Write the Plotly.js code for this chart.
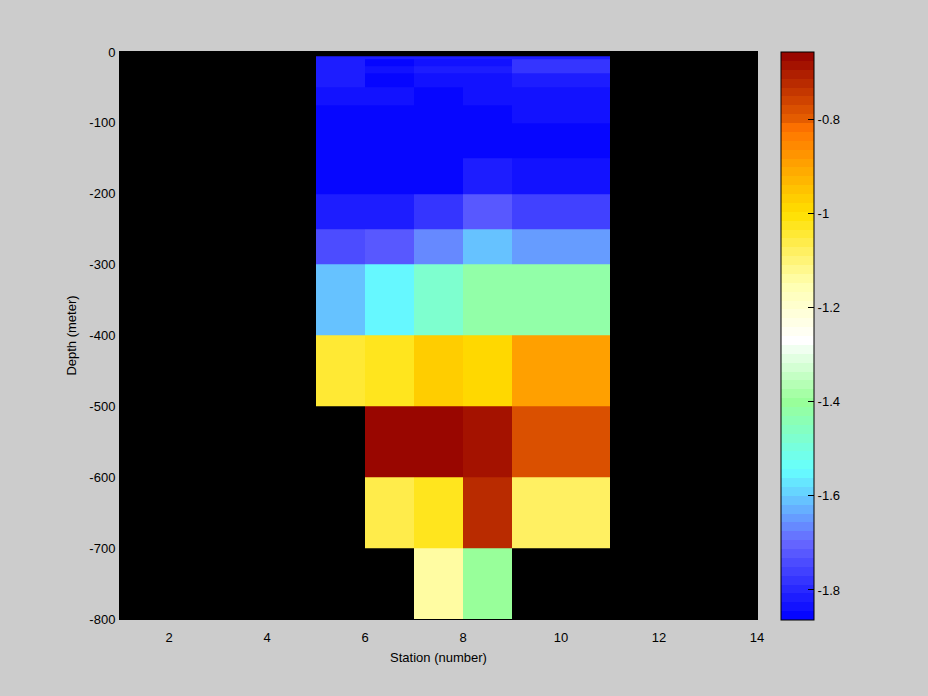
<!DOCTYPE html>
<html>
<head>
<meta charset="utf-8">
<script src="https://cdn.plot.ly/plotly-3.0.1.min.js"></script>
<style>html,body{margin:0;padding:0;background:#cccccc;}#chart{width:928px;height:696px;}</style>
</head>
<body>
<div id="chart"></div>
<script>
// Station cell edges (number)
const stationEdges = [5, 6, 7, 8, 9, 11];
// Depth cell edges (meter), top to bottom
const depthEdges = [-6, -10, -20, -30, -50, -75, -100, -150, -200, -250, -300, -400, -500, -600, -700, -800];
// Values per depth row (top to bottom), columns = station cells
const row01 = [-1.815, -1.815, -1.815, -1.815, -1.815];
const row02 = [-1.822, -1.848, -1.830, -1.830, -1.787];
const row03 = [-1.822, -1.835, -1.813, -1.813, -1.787];
const row04 = [-1.822, -1.848, -1.830, -1.830, -1.810];
const row05 = [-1.840, -1.840, -1.848, -1.830, -1.830];
const row06 = [-1.860, -1.860, -1.848, -1.848, -1.830];
const row07 = [-1.860, -1.860, -1.860, -1.848, -1.848];
const row08 = [-1.860, -1.860, -1.848, -1.810, -1.830];
const row09 = [-1.822, -1.822, -1.787, -1.719, -1.761];
const row10 = [-1.745, -1.719, -1.667, -1.604, -1.643];
const row11 = [-1.604, -1.545, -1.470, -1.426, -1.426];
const row12 = [-1.053, -1.027, -0.973, -0.995, -0.890];
const row13 = [null, -0.664, -0.664, -0.682, -0.780];
const row14 = [null, -1.067, -1.018, -0.731, -1.080];
const row15 = [null, null, -1.130, -1.400, null];

const yTickVals = [-800, -700, -600, -500, -400, -300, -200, -100, 0];
const yTickText = ['-800', '-700', '-600', '-500', '-400', '-300', '-200', '-100', '0'];
const xTickVals = [2, 4, 6, 8, 10, 12, 14];
const xTickText = ['2', '4', '6', '8', '10', '12', '14'];
const cbTickVals = [-1.8, -1.6, -1.4, -1.2, -1, -0.8];
const cbTickText = ['-1.8', '-1.6', '-1.4', '-1.2', '-1', '-0.8'];

const cmin = -1.864, cmax = -0.657;
// colormap anchors (value -> colour)
const mapVals = [-1.864, -1.70, -1.60, -1.545, -1.40, -1.27, -1.15, -1.08, -1.00, -0.82, -0.805, -0.657];
const mapCols = ['#0000ff', '#6666ff', '#66ccff', '#66ffff', '#99ff99', '#ffffff', '#ffffb0', '#fff060', '#ffe000', '#ff7400', '#e86000', '#940000'];

function hex2rgb(h){return [parseInt(h.slice(1,3),16),parseInt(h.slice(3,5),16),parseInt(h.slice(5,7),16)];}
function colorAt(v){
  if (v <= mapVals[0]) return mapCols[0];
  for (let i = 0; i < mapVals.length - 1; i++) {
    if (v <= mapVals[i+1]) {
      const f = (v - mapVals[i]) / (mapVals[i+1] - mapVals[i]);
      const a = hex2rgb(mapCols[i]), b = hex2rgb(mapCols[i+1]);
      const c = a.map((x, k) => Math.round(x + f * (b[k] - x)));
      return 'rgb(' + c.join(',') + ')';
    }
  }
  return mapCols[mapCols.length - 1];
}
const nLevels = 64;
const colorscale = [];
for (let i = 0; i < nLevels; i++) {
  const c = colorAt(cmin + (i + 0.5) / nLevels * (cmax - cmin));
  colorscale.push([i / nLevels, c]);
  colorscale.push([(i + 1) / nLevels, c]);
}

const zRows = [row01,row02,row03,row04,row05,row06,row07,row08,row09,row10,row11,row12,row13,row14,row15];
const font = {family: '"Liberation Sans", Arial, Helvetica, sans-serif', size: 13, color: '#000000'};

const trace = {
  type: 'heatmap',
  x: stationEdges,
  y: depthEdges.slice().reverse(),
  z: zRows.slice().reverse(),
  zmin: cmin, zmax: cmax,
  colorscale: colorscale,
  hoverongaps: false,
  colorbar: {
    x: (781 - 120) / 637, xanchor: 'left',
    y: 0.499, yanchor: 'middle',
    len: 568, lenmode: 'pixels',
    thickness: 33, thicknessmode: 'pixels',
    outlinewidth: 1, outlinecolor: '#000000',
    tickvals: cbTickVals, ticktext: cbTickText,
    ticks: 'inside', ticklen: 6, tickcolor: '#000000', tickwidth: 1,
    tickfont: font, xpad: 0, ypad: 0
  }
};

const layout = {
  width: 928, height: 696,
  paper_bgcolor: '#cccccc', plot_bgcolor: '#000000',
  margin: {l: 120, r: 171, t: 52, b: 77},
  font: font,
  showlegend: false,
  xaxis: {
    range: [1, 14], tickvals: xTickVals, ticktext: xTickText,
    showgrid: false, zeroline: false, showline: true, linecolor: '#000000', mirror: true,
    ticks: 'outside', ticklen: 6, tickcolor: 'rgba(0,0,0,0)',
    tickfont: font,
    title: {text: 'Station (number)', font: font, standoff: 9}
  },
  yaxis: {
    range: [-800, 0], tickvals: yTickVals, ticktext: yTickText,
    showgrid: false, zeroline: false, showline: true, linecolor: '#000000', mirror: true,
    ticks: 'outside', ticklen: 1, tickcolor: 'rgba(0,0,0,0)',
    tickfont: font,
    title: {text: 'Depth (meter)', font: font, standoff: 9}
  }
};

Plotly.newPlot('chart', [trace], layout, {displayModeBar: false, staticPlot: true});
</script>
</body>
</html>
